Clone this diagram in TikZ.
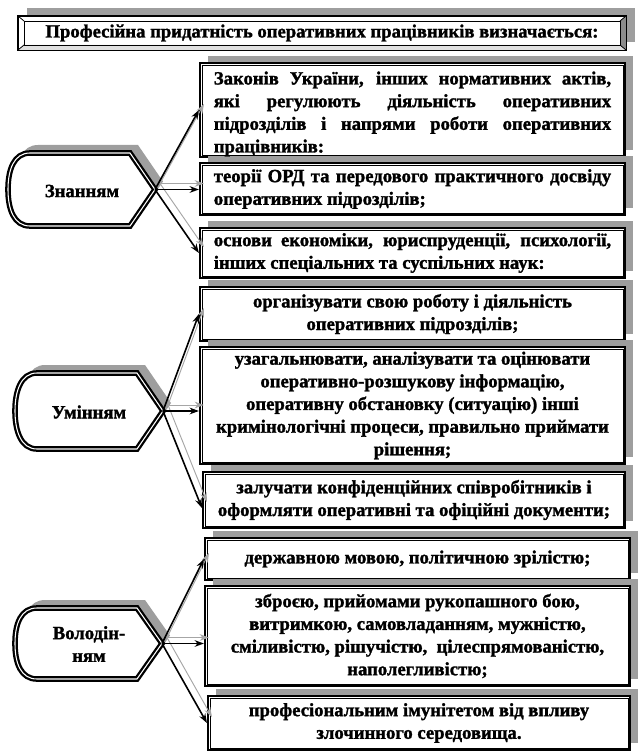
\documentclass[tikz,border=0pt]{standalone}
\usepackage{fontspec}
\setmainfont[BoldFeatures={FakeBold=1.5}]{Liberation Serif}
\usetikzlibrary{arrows.meta,fit,calc}
\definecolor{shc}{gray}{0.62}
\tikzset{
  every node/.style={font=\bfseries\fontsize{14}{17}\selectfont},
  frame/.style={draw, line width=1.6, fill=white, inner sep=0pt},
  inframe/.style={draw, line width=0.6},
  txt/.style={inner sep=0pt, align=center},
  chevline/.style={draw=black, fill=white, line width=1.7, double=white, double distance=0.8},
  arr/.style={line width=1.2, -{Stealth[length=7,width=5]}},
  sharr/.style={line width=0.7, draw=black!35, -{Stealth[length=7,width=5,fill=black!35]}},
}
\newcommand\rbox[5]{%
  \fill[shc] (#2+8,#3-7) rectangle (#4+8,#5-7);
  \node[frame, fit={(#2,#3) (#4,#5)}] (#1) {};
  \draw[inframe] ($(#1.north west)+(3,3)$) rectangle ($(#1.south east)+(-3,-3)$);
}
\newcommand\chev[6]{% name L T B C X
  \def\chevpath{(#5,#3) -- (#6,{(#3+#4)/2}) -- (#5,#4) -- (#2+22,#4)
     .. controls (#2+6,#4) and (#2,{(#3+#4)/2+20}) .. (#2,{(#3+#4)/2})
     .. controls (#2,{(#3+#4)/2-20}) and (#2+6,#3) .. (#2+22,#3) -- cycle}
  \fill[shc, shift={(8,-8)}] \chevpath;
  \path[chevline] \chevpath;
  \coordinate (#1) at (#6,{(#3+#4)/2});
}
\begin{document}
\begin{tikzpicture}[x=0.75pt,y=-0.75pt]
\useasboundingbox (0,0) rectangle (641,756);

% ---- title ----
\fill[shc] (27,8) rectangle (635,42);
\node[frame, line width=1, fit={(18,16) (626,50)}] (title) {};
\fill[black!45] (626,16) -- (626,50) -- (620,45) -- (620,21) -- cycle;
\fill[black!12] (18,50) -- (626,50) -- (620,45) -- (24,45) -- cycle;
\draw[line width=0.6] (24,21) rectangle (620,45);
\draw[line width=0.6] (18,16) -- (24,21) (626,16) -- (620,21) (18,50) -- (24,45) (626,50) -- (620,45);
\draw[line width=1] (title.north west) rectangle (title.south east);
\node (titlet) at ($(title.center)+(0,0)$) {Професійна придатність оперативних працівників визначається:};

% ---- right boxes ----
\rbox{b1}{200}{63}{625}{157}
\rbox{b2}{200}{163}{625}{215}
\rbox{b3}{200}{228}{625}{278}
\rbox{b4}{200}{287}{625}{341}
\rbox{b5}{200}{347}{625}{464}
\rbox{b6}{203}{472}{625}{528}
\rbox{b7}{205}{538}{630}{580}
\rbox{b8}{205}{586}{630}{686}
\rbox{b9}{208}{696}{630}{750}

% ---- left shapes ----
\chev{kntip}{8}{153}{226}{130}{155}
\chev{umtip}{15}{373}{449}{137}{163}
\chev{vltip}{15}{608}{679}{137}{162}
\node[txt] (kn) at (82,191) {Знанням};
\node[txt] (um) at (89,412) {Умінням};
\node[txt] (vl) at (89,644) {Володін-\\ням};

% ---- shadow arrows ----
\draw[sharr] ([shift={(5,-6)}]kntip) -- ([shift={(5,-6)}]b1.west);
\draw[sharr] ([shift={(5,-6)}]kntip) -- ([shift={(5,-6)}]kntip -| b2.west);
\draw[sharr] ([shift={(5,-6)}]kntip) -- ([shift={(5,-6)}]b3.west);
\draw[sharr] ([shift={(5,-6)}]umtip) -- ([shift={(5,-6)}]b4.west);
\draw[sharr] ([shift={(5,-6)}]umtip) -- ([shift={(5,-6)}]umtip -| b5.west);
\draw[sharr] ([shift={(5,-6)}]umtip) -- ([shift={(5,2)}]b6.west);
\draw[sharr] ([shift={(5,-6)}]vltip) -- ([shift={(5,-6)}]b7.west);
\draw[sharr] ([shift={(5,-6)}]vltip) -- ([shift={(5,-6)}]vltip -| b8.west);
\draw[sharr] ([shift={(5,-6)}]vltip) -- ([shift={(5,-6)}]b9.west);

% ---- arrows ----
\draw[arr] (kntip) -- (b1.west);
\draw[arr] (kntip) -- (kntip -| b2.west);
\draw[arr] (kntip) -- (b3.west);
\draw[arr] (umtip) -- (b4.west);
\draw[arr] (umtip) -- (umtip -| b5.west);
\draw[arr] (umtip) -- ($(b6.west)+(0,8)$);
\draw[arr] (vltip) -- (b7.west);
\draw[arr] (vltip) -- (vltip -| b8.west);
\draw[arr] (vltip) -- (b9.west);

% ---- texts ----
\node[txt, align=left] (t1) at ($(b1.center)+(0,4)$) {%
\makebox[298pt][s]{Законів України, інших нормативних актів,}\\
\makebox[298pt][s]{які регулюють діяльність оперативних}\\
\makebox[298pt][s]{підрозділів і напрями роботи оперативних}\\
працівників:};
\node[txt, align=left] (t2) at (b2.center) {%
\makebox[298pt][s]{теорії ОРД та передового практичного досвіду}\\
оперативних підрозділів;};
\node[txt, align=left] (t3) at (b3.center) {%
\makebox[298pt][s]{основи економіки, юриспруденції, психології,}\\
інших спеціальних та суспільних наук:};
\node[txt] (t4) at (b4.center) {організувати свою роботу і діяльність\\оперативних підрозділів;};
\node[txt] (t5) at (b5.center) {узагальнювати, аналізувати та оцінювати\\оперативно-розшукову інформацію,\\оперативну обстановку (ситуацію) інші\\кримінологічні процеси, правильно приймати\\рішення;};
\node[txt] (t6) at (b6.center) {залучати конфіденційних співробітників і\\оформляти оперативні та офіційні документи;};
\node[txt] (t7) at (b7.center) {державною мовою, політичною зрілістю;};
\node[txt] (t8) at (b8.center) {зброєю, прийомами рукопашного бою,\\витримкою, самовладанням, мужністю,\\сміливістю, рішучістю,\ \ цілеспрямованістю,\\наполегливістю;};
\node[txt] (t9) at (b9.center) {професіональним імунітетом від впливу\\злочинного середовища.};
\end{tikzpicture}
\end{document}
